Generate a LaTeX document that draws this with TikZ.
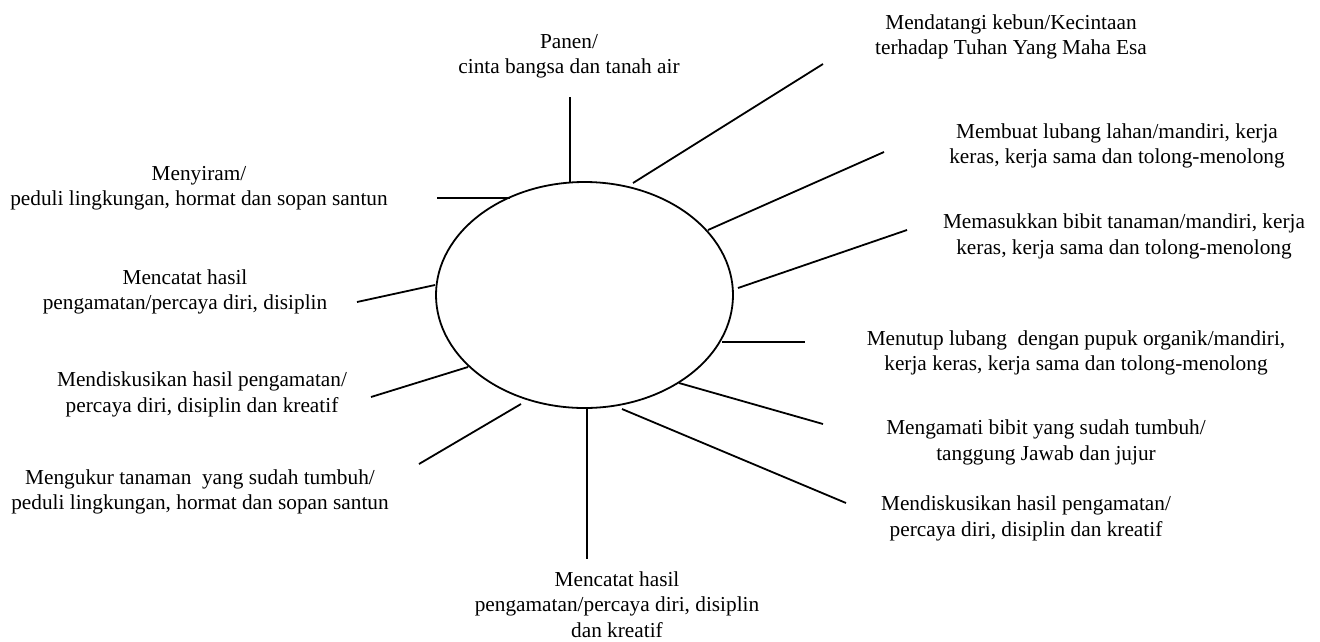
\documentclass[tikz,border=0pt]{standalone}
\usepackage{fontspec}
\setmainfont{Liberation Serif}
\usetikzlibrary{shapes.geometric}
\begin{document}
\begin{tikzpicture}[x=1pt,y=-1pt,
  lbl/.style={align=center, inner sep=0pt, font=\fontsize{21.3}{25.5}\selectfont},
  spoke/.style={line width=1.8pt},
  hubstyle/.style={ellipse, draw, line width=1.8pt, minimum width=297pt, minimum height=226pt, inner sep=0pt}]
\useasboundingbox (0,0) rectangle (1320,641);

% central ellipse
\node[hubstyle] (hub) at (584.5,295) {};

% labels
\node[lbl] (panen) at (569,56.5) {Panen/\\cinta bangsa dan tanah air};
\node[lbl] (datang) at (1011,37) {Mendatangi kebun/Kecintaan\\terhadap Tuhan Yang Maha Esa};
\node[lbl] (buat) at (1117,146) {Membuat lubang lahan/mandiri, kerja\\keras, kerja sama dan tolong-menolong};
\node[lbl] (masuk) at (1124,236.5) {Memasukkan bibit tanaman/mandiri, kerja\\keras, kerja sama dan tolong-menolong};
\node[lbl] (tutup) at (1076,353) {Menutup lubang\ \ dengan pupuk organik/mandiri,\\kerja keras, kerja sama dan tolong-menolong};
\node[lbl] (amati) at (1046,442.5) {Mengamati bibit yang sudah tumbuh/\\tanggung Jawab dan jujur};
\node[lbl] (diskr) at (1026,518.5) {Mendiskusikan hasil pengamatan/\\percaya diri, disiplin dan kreatif};
\node[lbl] (catatb) at (617,604.5) {Mencatat hasil\\pengamatan/percaya diri, disiplin\\dan kreatif};
\node[lbl] (siram) at (199,188) {Menyiram/\\peduli lingkungan, hormat dan sopan santun};
\node[lbl] (catatl) at (185,292) {Mencatat hasil\\pengamatan/percaya diri, disiplin};
\node[lbl] (diskl) at (202,394.5) {Mendiskusikan hasil pengamatan/\\percaya diri, disiplin dan kreatif};
\node[lbl] (ukur) at (200,492) {Mengukur tanaman\ \ yang sudah tumbuh/\\peduli lingkungan, hormat dan sopan santun};

% spoke end points
\coordinate (a1) at (570,182);  \coordinate (b1) at (570,97);
\coordinate (a2) at (633,183);  \coordinate (b2) at (823,64);
\coordinate (a3) at (708,230);  \coordinate (b3) at (884,152);
\coordinate (a4) at (738,288);  \coordinate (b4) at (907,230);
\coordinate (a5) at (722,342);  \coordinate (b5) at (805,342);
\coordinate (a6) at (679,383);  \coordinate (b6) at (823,424);
\coordinate (a7) at (622,409);  \coordinate (b7) at (846,503);
\coordinate (a8) at (587,409);  \coordinate (b8) at (587,559);
\coordinate (a9) at (510,198);  \coordinate (b9) at (437,198);
\coordinate (a10) at (435,285); \coordinate (b10) at (357,302);
\coordinate (a11) at (468,367); \coordinate (b11) at (371,397);
\coordinate (a12) at (521,404); \coordinate (b12) at (419,464);

\foreach \i in {1,...,12} {\draw[spoke] (a\i) -- (b\i);}
\end{tikzpicture}
\end{document}
